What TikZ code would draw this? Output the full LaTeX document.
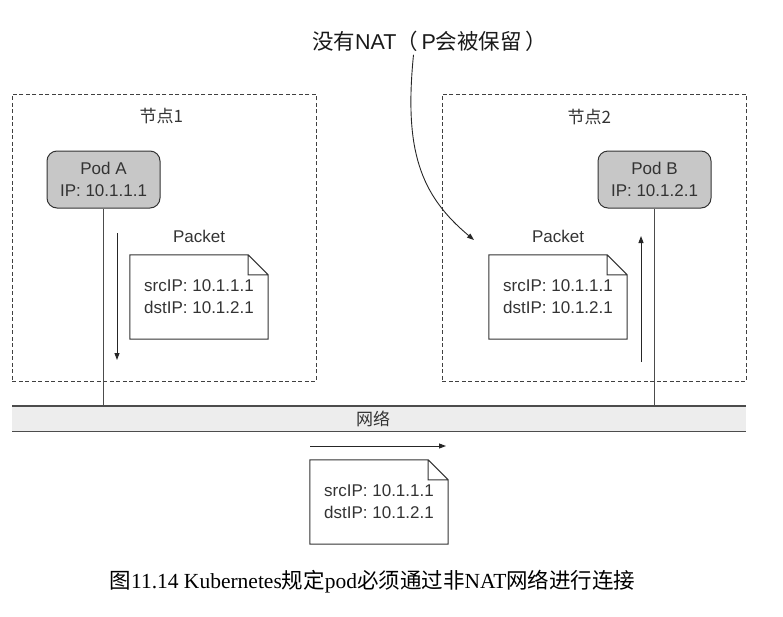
\documentclass[tikz,border=0pt]{standalone}
\usepackage{fontspec}
\setmainfont{Liberation Sans}
\newfontfamily\cjk{Noto Sans CJK SC}
\newfontfamily\capserif{Liberation Serif}
\usetikzlibrary{positioning,arrows.meta}

\begin{document}
\begin{tikzpicture}[
    x=1pt,y=-1pt,
    txt/.style={font=\fontsize{17}{22}\selectfont,text=black!80},
    hostbox/.style={draw=black!75,dash pattern=on 4pt off 2.5pt,line width=0.8pt,
        anchor=north west,minimum width=304pt,minimum height=287pt,inner sep=0pt},
    pod/.style={txt,draw=black!80,fill=black!22,rounded corners=10pt,line width=1pt,
        minimum width=113pt,minimum height=57pt,align=center,inner sep=0pt},
    packet/.style={txt,minimum width=138pt,minimum height=84pt,align=left,inner sep=0pt},
    docline/.style={draw=black!80,line width=1pt,line join=miter},
    wire/.style={draw=black!70,line width=1.2pt},
    flow/.style={-{Triangle[length=7pt,width=5pt]},line width=0.9pt,black!85}
  ]
  \useasboundingbox (0,0) rectangle (783,616);

  % the two hosts
  \node (host1) [hostbox] at (12,94)  {};
  \node (host2) [hostbox] at (442,94) {};
  \node [txt] at ([xshift=-3pt,yshift=-22pt]host1.north) {\cjk 节点1};
  \node [txt] at ([xshift=-5pt,yshift=-23pt]host2.north) {\cjk 节点2};

  % pods
  \node (podA) [pod] at (103.5,179.5) {Pod A\\IP: 10.1.1.1};
  \node (podB) [pod] at (654.5,179.5) {Pod B\\IP: 10.1.2.1};

  % network band
  \node (net) [anchor=north west,fill=black!7,minimum width=734pt,minimum height=25pt,inner sep=0pt] at (12,406) {};
  \draw [wire] (net.north west) -- (net.north east)
               (net.south west) -- (net.south east);
  \node [txt] at ([xshift=-6pt]net.center) {\cjk 网络};
  \draw [wire] (podA) -- (podA |- net.north);
  \draw [wire] (podB) -- (podB |- net.north);

  % packets
  \node (pkt1) [packet] at (199,297) {srcIP: 10.1.1.1\\dstIP: 10.1.2.1};
  \node (pkt2) [packet] at (558,297) {srcIP: 10.1.1.1\\dstIP: 10.1.2.1};
  \node (pkt3) [packet] at (379,502) {srcIP: 10.1.1.1\\dstIP: 10.1.2.1};
  \foreach \p in {pkt1,pkt2,pkt3}
    \draw [docline] (\p.south west) -- (\p.north west) -- ([xshift=-20pt]\p.north east)
          -- ([yshift=-20pt]\p.north east) -- (\p.south east) -- cycle
          ([xshift=-20pt]\p.north east) |- ([yshift=-20pt]\p.north east);
  \node [txt,above=9pt of pkt1] {Packet};
  \node [txt,above=9pt of pkt2] {Packet};

  % flow of the packet
  \coordinate (downS) at (117,233);
  \coordinate (downE) at (117,360);
  \coordinate (upS)   at (641,362);
  \coordinate (upE)   at (641,236);
  \coordinate (netS)  at (310,446);
  \coordinate (netE)  at (446,446);
  \draw [flow] (downS) -- (downE);
  \draw [flow] (upS) -- (upE);
  \draw [flow] (netS) -- (netE);

  % no NAT remark
  \node (nat) [font=\fontsize{21.5}{25}\selectfont,text=black!90] at (429.5,41)
        {{\cjk 没有}NAT{\cjk （}\,P{\cjk 会被保留}\,{\cjk ）}};
  \coordinate (natE) at (474,240);
  \draw [flow] ([xshift=-16pt]nat.south) .. controls (404,150) and (420,195) .. (natE);

  % caption
  \node (cap) [font=\fontsize{21.5}{25}\selectfont\capserif] at (372.5,582)
        {{\cjk 图}11.14 Kubernetes{\cjk 规定}pod{\cjk 必须通过非}NAT{\cjk 网络进行连接}};
\end{tikzpicture}
\end{document}
